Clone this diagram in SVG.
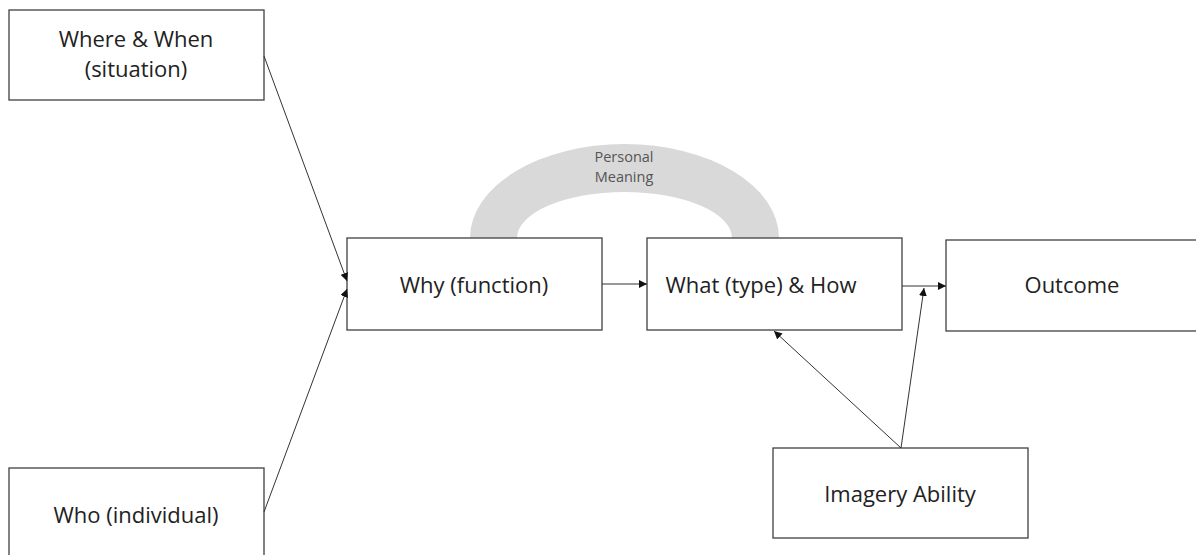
<svg xmlns="http://www.w3.org/2000/svg" width="1196" height="555" viewBox="0 0 1196 555">
<style>
.box{fill:#fff;stroke:#404040;stroke-width:1.3}
.t{font-family:"Open Sans","Liberation Sans",sans-serif;font-size:22px;fill:#222;text-anchor:middle}
.s{font-family:"Open Sans","Liberation Sans",sans-serif;font-size:14.5px;fill:#555;text-anchor:middle}
.c{stroke:#333;stroke-width:1;fill:none;marker-end:url(#ah)}
</style>
<defs>
<marker id="ah" viewBox="0 0 10 10" refX="10" refY="5" markerWidth="8" markerHeight="8" markerUnits="userSpaceOnUse" orient="auto">
<path d="M0,0 L10,5 L0,10 z" fill="#111"/>
</marker>
</defs>
<rect width="1196" height="555" fill="#fff"/>
<g id="meaning">
<path d="M470,238 A154.5,94 0 0 1 779,238 L732,238 A107.5,46 0 0 0 517,238 Z" fill="#d9d9d9"/>
<text class="s" x="624" y="162">Personal</text>
<text class="s" x="624" y="182">Meaning</text>
</g>
<g id="where">
<rect class="box" x="9" y="10" width="255" height="90"/>
<text class="t" x="136" y="47">Where &amp; When</text>
<text class="t" x="136" y="77">(situation)</text>
</g>
<g id="who">
<rect class="box" x="9" y="468" width="255" height="95"/>
<text class="t" x="136" y="523">Who (individual)</text>
</g>
<g id="why">
<rect class="box" x="347" y="238" width="255" height="92"/>
<text class="t" x="474" y="293">Why (function)</text>
</g>
<g id="what">
<rect class="box" x="647" y="238" width="255" height="92"/>
<text class="t" x="761" y="293">What (type) &amp; How</text>
</g>
<g id="outcome">
<rect class="box" x="946" y="240" width="255" height="91"/>
<text class="t" x="1072" y="293">Outcome</text>
</g>
<g id="imagery">
<rect class="box" x="773" y="448" width="255" height="90"/>
<text class="t" x="900" y="502">Imagery Ability</text>
</g>
<g id="connectors">
<line class="c" x1="264" y1="56" x2="347" y2="281"/>
<line class="c" x1="264" y1="512" x2="347" y2="289"/>
<line class="c" x1="602" y1="284" x2="647" y2="284"/>
<line class="c" x1="902" y1="286" x2="946" y2="286"/>
<line class="c" x1="901" y1="448" x2="774" y2="331"/>
<line class="c" x1="901" y1="448" x2="924" y2="288"/>
</g>
</svg>
